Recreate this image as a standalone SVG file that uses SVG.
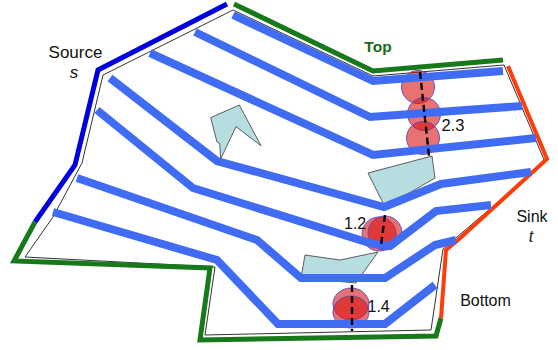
<svg xmlns="http://www.w3.org/2000/svg" width="558" height="350" viewBox="0 0 558 350">
<style>
.edge{fill:none;stroke-linejoin:miter;stroke-linecap:butt}
.src{stroke:#0000dc;stroke-width:5}
.grn{stroke:#17791a;stroke-width:5}
.snk{stroke:#ff3c0a;stroke-width:4}
.thin{fill:none;stroke:#333;stroke-width:1}
.stripe{fill:none;stroke:#3f6cf3;stroke-width:8;stroke-linejoin:miter;stroke-linecap:butt}
.obs{fill:#b6dde0;stroke:#3a3a3a;stroke-width:0.8}
.disk{fill:#d81414;fill-opacity:0.6;stroke:#5a48c0;stroke-width:0.9}
.cut{stroke:#000;stroke-width:2.4;stroke-dasharray:7 4;fill:none}
.lbl{font-family:"Liberation Sans",Arial,sans-serif;fill:#111}
</style>
<g id="boundary">
<polyline class="thin" points="233,10 373,76 504,65 545,162 443,249 431,330 205,335 215,267 25,257 53,217 82,163 103,75 233,10"/>
<polyline class="edge src" points="227,4 98,70 75,165 35,222"/>
<polyline class="edge grn" points="35,222 14,261 210,268 200,340 436,336 441,318"/>
<polyline class="edge grn" points="234,4 373,71 503,60"/>
<polyline class="edge snk" points="508,66 547,159 458,240 446,250 441,318"/>
</g>
<g id="obstacles">
<polygon class="obs" points="210.7,117.7 239.3,105 261,145.7 236,126.7 220.7,159 219.7,143.7 217,142"/>
<polygon class="obs" points="368,173 432,156 435,178 385,207"/>
<polygon class="obs" points="305,255 340,260 378,252 356,283 301,278"/>
</g>
<g id="disks">
<circle class="disk" cx="418" cy="87" r="16.5"/>
<circle class="disk" cx="424" cy="114" r="16.5"/>
<circle class="disk" cx="423" cy="138" r="16.5"/>
<circle class="disk" cx="379" cy="234" r="17"/>
<circle class="disk" cx="385" cy="233" r="17"/>
<ellipse class="disk" cx="351" cy="304" rx="18" ry="16"/>
<ellipse class="disk" cx="351" cy="312" rx="18" ry="16"/>
</g>
<g id="connectors">
<polyline class="stripe" points="233,15 373,81 503,71"/>
<polyline class="stripe" points="195,32 370,117 522,106"/>
<polyline class="stripe" points="150,53 373,155 536,138"/>
<polyline class="stripe" points="110,78 217,161 384,207 441,184 531,172"/>
<polyline class="stripe" points="97,110 193,188 373,244 390,246 436,211 491,205"/>
<polyline class="stripe" points="77,178 257,240 301,278 385,278 435,245 456,240"/>
<polyline class="stripe" points="53,212 217,260 278,324 385,324 435,285"/>
</g>
<g id="cuts">
<line class="cut" x1="420" y1="72" x2="429" y2="156"/>
<line class="cut" x1="385" y1="215" x2="381" y2="245"/>
<line class="cut" x1="352" y1="285" x2="352" y2="331"/>
</g>
<g id="labels">
<text class="lbl" x="75.5" y="58" font-size="17" text-anchor="middle">Source</text>
<text class="lbl" x="74" y="78" font-size="17" font-style="italic" text-anchor="middle">s</text>
<text class="lbl" x="378" y="52" font-size="15.5" font-weight="bold" text-anchor="middle" style="fill:#176a19">Top</text>
<text class="lbl" x="532" y="222" font-size="16" text-anchor="middle">Sink</text>
<text class="lbl" x="531" y="242" font-size="16" font-style="italic" text-anchor="middle">t</text>
<text class="lbl" x="485.5" y="306" font-size="16" text-anchor="middle">Bottom</text>
<text class="lbl" x="441.5" y="131" font-size="16.5">2.3</text>
<text class="lbl" x="344" y="229" font-size="16">1.2</text>
<text class="lbl" x="367.5" y="312" font-size="16">1.4</text>
</g>
</svg>
